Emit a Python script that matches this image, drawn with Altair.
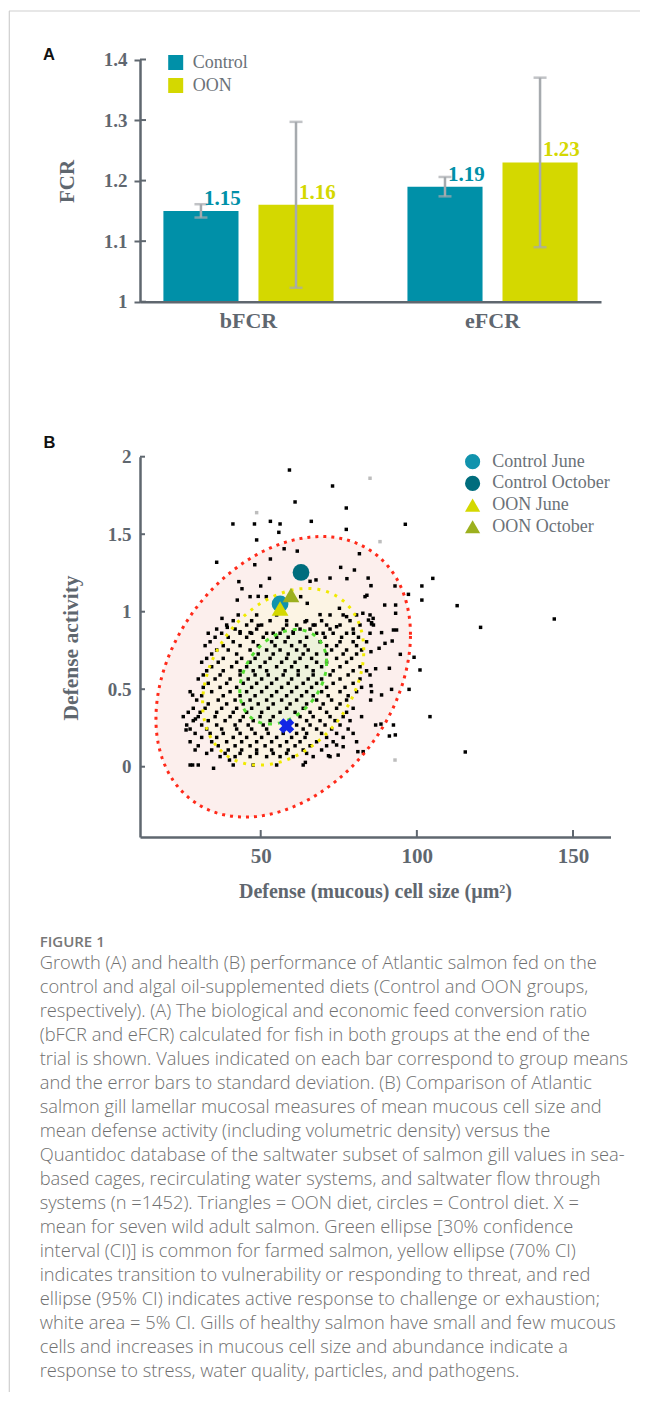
import altair as alt
import numpy as np
import pandas as pd

W, H = 632, 1384
SERIF = "Liberation Serif"
SANS = "Liberation Sans"
AX = "#5f676f"
LEG = "#6b7278"

# ---------------- Panel A data ----------------
metric = ["bFCR", "bFCR", "eFCR", "eFCR"]
group = ["Control", "OON", "Control", "OON"]
fcr_mean = [1.15, 1.16, 1.19, 1.23]
fcr_sd = [0.011, 0.137, 0.016, 0.140]
a_ticks = [1.0, 1.1, 1.2, 1.3, 1.4]

# ---------------- Panel B data ----------------
series = ["Control June", "Control October", "OON June", "OON October"]
series_x = [56.2, 62.9, 56.2, 59.7]
series_y = [1.05, 1.253, 1.02, 1.108]
wild_x = [58.3]
wild_y = [0.263]

# database points: upper area (x, y)
db_upper = [(59.2,1.914),(73.0,1.811),(61.0,1.708),(77.4,1.669),(66.2,1.583),(53.1,1.583),
            (56.2,1.566),(48.0,1.566),(41.1,1.566),(55.8,1.512),(77.4,1.531),(48.7,1.463),
            (35.9,1.319),(57.5,1.406),(61.7,1.391),(53.1,1.340),(48.1,1.303),(81.6,1.374),
            (75.6,1.286),(80.0,1.269),(72.2,1.217),(77.6,1.213),(84.4,1.217),(85.3,1.168),
            (84.0,1.106),(67.7,1.205),(65.8,1.196),(52.8,1.215),(50.0,1.166),(43.0,1.194),
            (44.0,1.148),(46.6,1.097),(49.2,1.099),(51.8,1.097),(42.5,1.075),(62.8,1.097),
            (64.9,1.054),(69.0,0.981),(75.2,1.022),(77.5,0.968),(82.7,0.990),(85.5,0.929),
            (37.6,0.957),(39.3,0.899),(43.4,0.871),(46.6,0.865),(49.2,0.912),(51.9,0.861),
            (58.3,0.914),(60.4,0.871),(64.2,0.935),(67.4,0.914),(70.0,0.861),(74.3,0.903),
            (79.7,0.861)]
# database points: right side and outer ring (x, y)
db_outer = [(96.3,1.564),(105.1,1.215),(101.6,1.166),(101.6,1.075),(112.9,1.039),(120.4,0.899),
            (144.0,0.953),(99.1,0.706),(101.0,0.624),(97.5,0.499),(104.2,0.323),(115.5,0.095),
            (91.2,0.198),(97.3,1.112),(93.0,1.166),(93.2,1.043),(93.2,0.990),(89.7,1.043),
            (83.4,1.097),(84.5,0.946),(85.5,0.921),(86.0,0.957),(88.7,0.865),(92.5,0.882),
            (93.5,0.882),(92.1,0.811),(89.8,0.796),(87.9,0.764),(85.3,0.742),(86.8,0.632),
            (91.2,0.635),(94.7,0.725),(85.3,0.523),(88.7,0.463),(91.9,0.499),(85.2,0.430),
            (86.8,0.269),(93.1,0.205),(92.5,0.269),(88.5,0.275),(74.3,0.140),(76.4,0.129),
            (82.8,0.097),(81.1,0.097),(74.8,0.075),(71.7,0.071),(64.3,0.028),(40.0,0.043),
            (34.9,-0.010),(28.2,0.011),(26.1,0.237),(28.2,0.462),(29.1,0.308)]
# database points: faint grey ones (x, y)
db_grey = [(85.0,1.861),(48.7,1.639),(88.2,1.452),(93.0,0.043),(85.4,1.168)]
# database points: dense core, one row per defense-activity level
db_core_rows = [
    (0.979, [42.8, 48.7, 55.1, 72.2, 76.4, 80.7, 85.0]),
    (0.942, [41.2, 47.1, 53.0, 58.3, 64.7, 69.5, 78.6]),
    (0.914, [39.1, 45.5, 50.3, 61.5, 66.8, 71.1, 75.4, 81.8, 86.1]),
    (0.888, [35.9, 41.8, 48.7, 57.2, 62.6, 65.8, 72.2, 79.6]),
    (0.861, [33.2, 37.5, 43.4, 47.1, 54.0, 56.2, 60.4, 67.9, 73.2, 77.5, 85.0]),
    (0.835, [35.4, 39.6, 45.5, 50.8, 55.1, 58.8, 64.7, 70.6, 75.9, 81.3]),
    (0.806, [33.8, 41.2, 47.6, 53.5, 57.8, 62.6, 69.0, 75.4, 79.6, 83.9]),
    (0.781, [32.2, 38.0, 43.4, 49.2, 54.6, 59.9, 64.2, 71.1, 74.3, 80.7]),
    (0.753, [35.9, 39.6, 46.6, 51.9, 56.2, 61.5, 65.2, 72.7, 77.5, 82.3]),
    (0.727, [34.3, 42.3, 49.2, 54.0, 58.8, 63.6, 67.9, 71.1, 76.4, 80.7]),
    (0.699, [32.7, 38.0, 43.9, 48.2, 53.0, 58.3, 62.6, 66.3, 74.3, 79.1]),
    (0.674, [31.1, 36.4, 42.3, 46.6, 51.4, 56.7, 61.0, 67.9, 71.1, 77.5]),
    (0.645, [34.3, 40.7, 45.5, 49.8, 55.1, 59.9, 64.7, 69.5, 75.4, 81.8]),
    (0.619, [32.7, 38.0, 43.4, 47.6, 51.9, 57.8, 62.0, 66.8, 73.2, 79.6, 83.9]),
    (0.592, [31.6, 37.0, 43.4, 48.2, 52.4, 57.2, 62.0, 66.8, 72.2, 78.0, 85.0]),
    (0.566, [30.0, 35.4, 40.2, 46.0, 50.3, 55.1, 59.9, 65.2, 69.5, 75.4, 81.8]),
    (0.538, [33.2, 39.1, 44.4, 48.7, 53.5, 58.8, 63.6, 67.9, 73.2, 79.6]),
    (0.512, [31.6, 37.0, 42.3, 47.1, 51.9, 56.7, 61.5, 66.3, 71.1, 77.0, 82.3]),
    (0.484, [27.4, 34.3, 40.2, 45.5, 50.3, 55.1, 59.9, 64.7, 69.5, 75.4, 80.7, 85.5]),
    (0.458, [31.1, 38.0, 43.4, 48.2, 53.5, 58.3, 63.1, 66.8, 71.6, 78.0]),
    (0.430, [29.5, 36.4, 41.8, 46.6, 51.9, 56.7, 61.5, 67.9, 72.7, 77.5]),
    (0.405, [33.2, 39.1, 44.4, 49.2, 54.0, 59.4, 64.7, 70.0, 75.4]),
    (0.377, [28.4, 32.2, 37.5, 42.3, 47.1, 52.4, 58.3, 63.6, 69.0, 74.3, 79.6]),
    (0.351, [26.8, 30.6, 35.9, 41.2, 45.5, 50.3, 56.2, 61.0, 65.8, 71.1, 77.5]),
    (0.323, [25.2, 30.0, 35.4, 40.2, 44.4, 49.8, 54.0, 62.6, 66.8, 72.2, 76.4, 82.3]),
    (0.297, [28.4, 33.2, 38.6, 43.4, 47.6, 53.0, 64.7, 69.0, 73.8, 78.6]),
    (0.269, [26.3, 31.1, 35.9, 41.8, 46.0, 50.8, 61.5, 65.8, 70.6, 75.4]),
    (0.243, [27.4, 32.7, 37.5, 42.3, 47.1, 51.9, 63.6, 67.9, 72.7, 78.0]),
    (0.215, [29.0, 33.8, 38.0, 43.4, 48.2, 52.4, 57.2, 61.5, 64.7, 69.5, 74.3, 79.6]),
    (0.189, [31.1, 35.9, 41.2, 45.5, 50.3, 55.1, 59.9, 64.2, 71.1, 76.4]),
    (0.161, [27.4, 34.3, 39.1, 43.9, 48.7, 53.5, 58.3, 62.6, 67.9, 73.2, 80.7]),
    (0.135, [30.0, 36.4, 41.8, 46.6, 51.4, 56.2, 61.0, 65.8, 71.1]),
    (0.108, [29.0, 34.3, 39.6, 43.9, 48.7, 53.5, 58.8, 63.6, 69.5]),
    (0.086, [32.7, 38.6, 43.4, 48.7, 54.0, 58.3, 64.7]),
    (0.065, [37.0, 41.8, 46.6, 51.9, 56.2, 60.4, 66.8, 72.2]),
    (0.011, [27.4, 30.0, 41.2, 47.6, 55.1, 63.6]),
]

# confidence ellipses (95 %, 70 %, 30 %): common centre and correlation, half extents
ell_center = [57.2, 0.58]
ell_rho = 0.30
ell_rx = [40.75, 25.8, 13.9]
ell_ry = [0.905, 0.57, 0.305]
bx_ticks = [50, 100, 150]
by_ticks = [0, 0.5, 1, 1.5, 2]

caption_title = "FIGURE 1"
caption_lines = [
    "Growth (A) and health (B) performance of Atlantic salmon fed on the",
    "control and algal oil-supplemented diets (Control and OON groups,",
    "respectively). (A) The biological and economic feed conversion ratio",
    "(bFCR and eFCR) calculated for fish in both groups at the end of the",
    "trial is shown. Values indicated on each bar correspond to group means",
    "and the error bars to standard deviation. (B) Comparison of Atlantic",
    "salmon gill lamellar mucosal measures of mean mucous cell size and",
    "mean defense activity (including volumetric density) versus the",
    "Quantidoc database of the saltwater subset of salmon gill values in sea-",
    "based cages, recirculating water systems, and saltwater flow through",
    "systems (n =1452). Triangles = OON diet, circles = Control diet. X =",
    "mean for seven wild adult salmon. Green ellipse [30% confidence",
    "interval (CI)] is common for farmed salmon, yellow ellipse (70% CI)",
    "indicates transition to vulnerability or responding to threat, and red",
    "ellipse (95% CI) indicates active response to challenge or exhaustion;",
    "white area = 5% CI. Gills of healthy salmon have small and few mucous",
    "cells and increases in mucous cell size and abundance indicate a",
    "response to stress, water quality, particles, and pathogens.",
]

# ================= Panel A =================
dfA = pd.DataFrame({"metric": metric, "group": group, "mean": fcr_mean, "sd": fcr_sd})
dfA["lo"] = dfA["mean"] - dfA["sd"]
dfA["hi"] = dfA["mean"] + dfA["sd"]
dfA["base"] = 1.0

axA_x = alt.Axis(orient="bottom", offset=-(H - 293.7), title=None, labelAngle=0,
                 ticks=False, tickSize=0, labelPadding=9, labelFont=SERIF,
                 labelFontWeight="bold", labelFontSize=22, labelColor=AX,
                 domainColor=AX, domainWidth=2.5, grid=False, zindex=1)
axA_y = alt.Axis(orient="left", offset=-132, values=a_ticks, format="~g",
                 tickSize=6, tickWidth=2, tickColor=AX, labelPadding=7,
                 labelFont=SERIF, labelFontWeight="bold", labelFontSize=19,
                 labelColor=AX, domainColor=AX, domainWidth=2.5, grid=False,
                 title="FCR", titleX=-72.5, titleY=173, titleAngle=270,
                 titleAlign="center", titleBaseline="middle", titleFont=SERIF,
                 titleFontWeight="bold", titleFontSize=21, titleColor=AX, zindex=1)
sxA = alt.Scale(domain=["bFCR", "eFCR"], range=[132, 593], paddingInner=0.221, paddingOuter=0.055)
syA = alt.Scale(domain=[1, 1.4], range=[293.7, 51.5], nice=False, zero=False)
xoA = alt.XOffset("group:N", scale=alt.Scale(domain=["Control", "OON"], paddingInner=0.21, paddingOuter=0.105))
legA = alt.Legend(orient="none", legendX=158.7, legendY=45.5, title=None, symbolType="square",
                  symbolSize=225, symbolStrokeWidth=0, labelFont=SERIF, labelFontSize=18,
                  labelColor=LEG, labelOffset=8, rowPadding=5, padding=0)
colA = alt.Color("group:N", scale=alt.Scale(domain=["Control", "OON"], range=["#0090a8", "#d4d800"]), legend=legA)


def XA():
    return alt.X("metric:N", scale=sxA, axis=axA_x)


def YA(f):
    return alt.Y(f, type="quantitative", scale=syA, axis=axA_y)


baseA = alt.Chart(dfA)
bars = baseA.mark_bar().encode(x=XA(), xOffset=xoA, y=YA("mean"), y2="base:Q", color=colA)
err = baseA.mark_rule(color="#a6aaae", strokeWidth=2.5).encode(x=XA(), xOffset=xoA, y=YA("lo"), y2="hi:Q")
cap_lo = baseA.mark_tick(color="#a6aaae", thickness=2.5, size=13).encode(x=XA(), xOffset=xoA, y=YA("lo"))
cap_hi = baseA.mark_tick(color="#a6aaae", thickness=2.5, size=13).encode(x=XA(), xOffset=xoA, y=YA("hi"))
vals = baseA.mark_text(align="left", baseline="alphabetic", dx=3, dy=-6, font=SERIF,
                       fontWeight="bold", fontSize=21).encode(
    x=XA(), xOffset=xoA, y=YA("mean"), text=alt.Text("mean:Q", format=".2f"), color=colA)
inA = alt.Chart(pd.DataFrame({"v": a_ticks})).mark_rule(color=AX, strokeWidth=2).encode(
    y=YA("v"), x=alt.value(132), x2=alt.value(138))
panelA = alt.layer(bars, err, cap_lo, cap_hi, vals, inA)

# ================= Panel B =================
sxB = alt.Scale(domain=[11.35, 162.0], range=[132, 602.5], nice=False, zero=False)
syB = alt.Scale(domain=[-0.4535, 2.0], range=[829, 448.7], nice=False, zero=False)
axB_x = alt.Axis(orient="bottom", offset=-(H - 829), values=bx_ticks, ticks=False, tickSize=0,
                 labelPadding=8, labelFont=SERIF, labelFontWeight="bold", labelFontSize=21,
                 labelColor=AX, domainColor=AX, domainWidth=2.5, grid=False,
                 title="Defense (mucous) cell size (µm²)", titleX=367, titleY=54.5,
                 titleAlign="center", titleBaseline="middle", titleFont=SERIF,
                 titleFontWeight="bold", titleFontSize=20, titleColor=AX, zindex=1)
axB_y = alt.Axis(orient="left", offset=-132, values=by_ticks, format="~g", ticks=False,
                 tickSize=0, labelPadding=9, labelFont=SERIF, labelFontWeight="bold",
                 labelFontSize=19, labelColor=AX, domainColor=AX, domainWidth=2.5, grid=False,
                 title="Defense activity", titleX=-69, titleY=639.5, titleAngle=270,
                 titleAlign="center", titleBaseline="middle", titleFont=SERIF,
                 titleFontWeight="bold", titleFontSize=21.5, titleColor=AX, zindex=1)


def XB(f):
    return alt.X(f, type="quantitative", scale=sxB, axis=axB_x)


def YB(f):
    return alt.Y(f, type="quantitative", scale=syB, axis=axB_y)


def ellipse_fill(rx, ry):
    t = np.linspace(np.pi, 0, 181)
    c = ell_rho * ry
    d = ry * np.sqrt(1 - ell_rho ** 2)
    return pd.DataFrame({
        "x": ell_center[0] + rx * np.cos(t),
        "up": ell_center[1] + c * np.cos(t) + d * np.sin(t),
        "lo": ell_center[1] + c * np.cos(t) - d * np.sin(t),
    })


def ellipse_outline(rx, ry):
    t = np.linspace(0, 2 * np.pi, 241)
    c = ell_rho * ry
    d = ry * np.sqrt(1 - ell_rho ** 2)
    return pd.DataFrame({
        "i": np.arange(len(t)),
        "x": ell_center[0] + rx * np.cos(t),
        "y": ell_center[1] + c * np.cos(t) + d * np.sin(t),
    })


fills = ["#fcefed", "#fcf4e4", "#eef3dc"]
strokes = ["#ff2a1a", "#f0ea00", "#55dd33"]
dashes = [[3, 5], [3, 6], [4, 6]]
layersB = []
for rx, ry, fc in zip(ell_rx, ell_ry, fills):
    layersB.append(alt.Chart(ellipse_fill(rx, ry)).mark_area(color=fc, opacity=1).encode(
        x=XB("x"), y=YB("up"), y2="lo:Q"))

db_pts = list(db_upper) + list(db_outer)
for yv, xs in db_core_rows:
    db_pts += [(xv, yv) for xv in xs]
dfDB = pd.DataFrame(db_pts, columns=["x", "y"])
dfGrey = pd.DataFrame(db_grey, columns=["x", "y"])
layersB.append(alt.Chart(dfGrey).mark_square(size=12, color="#bdbdbd", opacity=1).encode(x=XB("x"), y=YB("y")))
layersB.append(alt.Chart(dfDB).mark_square(size=12, color="#000000", opacity=1).encode(x=XB("x"), y=YB("y")))

for rx, ry, sc, dsh in zip(ell_rx, ell_ry, strokes, dashes):
    layersB.append(alt.Chart(ellipse_outline(rx, ry)).mark_line(color=sc, strokeWidth=3, strokeDash=dsh).encode(
        x=XB("x"), y=YB("y"), order="i:Q"))

dfXT = pd.DataFrame({"v": bx_ticks, "a": -0.4535, "b": -0.4535 + 0.045})
dfYT = pd.DataFrame({"v": by_ticks, "a": 11.35, "b": 11.35 + 1.6})
layersB.append(alt.Chart(dfXT).mark_rule(color=AX, strokeWidth=2).encode(x=XB("v"), y=YB("a"), y2="b:Q"))
layersB.append(alt.Chart(dfYT).mark_rule(color=AX, strokeWidth=2).encode(y=YB("v"), x=XB("a"), x2="b:Q"))

legB = alt.Legend(orient="none", legendX=455.6, legendY=444.7, title=None, symbolSize=230,
                  symbolStrokeWidth=0, labelFont=SERIF, labelFontSize=18, labelColor=LEG,
                  labelOffset=10.6, rowPadding=3.7, padding=0)
dfS = pd.DataFrame({"series": series, "x": series_x, "y": series_y})
layersB.append(alt.Chart(dfS).mark_point(filled=True, opacity=1, size=280).encode(
    x=XB("x"), y=YB("y"),
    color=alt.Color("series:N", scale=alt.Scale(domain=series, range=["#1193ad", "#006d7d", "#d4d800", "#9cb01e"]), legend=legB),
    shape=alt.Shape("series:N", scale=alt.Scale(domain=series, range=["circle", "circle", "triangle-up", "triangle-up"]), legend=legB),
))
layersB.append(alt.Chart(pd.DataFrame({"x": wild_x, "y": wild_y})).mark_point(
    shape="cross", filled=True, opacity=1, angle=45, size=240, color="#1226e6").encode(x=XB("x"), y=YB("y")))
panelB = alt.layer(*layersB)

# ================= Caption and decorations =================
one = pd.DataFrame({"k": [0]})
dfCap = pd.DataFrame({"i": list(range(len(caption_lines))), "line": caption_lines})
caption = alt.Chart(dfCap).mark_text(align="left", baseline="middle", font="Open Sans", fontSize=18.3,
                                     fontWeight=300, color="#6f6f6f").encode(
    y=alt.Y("i:Q", scale=alt.Scale(domain=[0, len(caption_lines) - 1], range=[956.3, 1363.7], nice=False, zero=False), axis=None),
    x=alt.value(31.7), text="line:N")
fig_title = alt.Chart(one).mark_text(align="left", baseline="middle", font="Open Sans", fontSize=15,
                                     fontWeight=600, color="#777777", text=caption_title).encode(
    x=alt.value(31.7), y=alt.value(933.7))
lab_a = alt.Chart(one).mark_text(align="left", baseline="middle", font=SANS, fontSize=16.5,
                                 fontWeight="bold", color="#111111", text="A").encode(x=alt.value(35), y=alt.value(46.7))
lab_b = alt.Chart(one).mark_text(align="left", baseline="middle", font=SANS, fontSize=16.5,
                                 fontWeight="bold", color="#111111", text="B").encode(x=alt.value(35.5), y=alt.value(434.5))
frame_top = alt.Chart(one).mark_rule(color="#cfcfcf", strokeWidth=1.2).encode(
    x=alt.value(1), x2=alt.value(W), y=alt.value(3))
frame_left = alt.Chart(one).mark_rule(color="#cfcfcf", strokeWidth=1.2).encode(
    x=alt.value(1.3), y=alt.value(3), y2=alt.value(H))

chart = alt.layer(frame_top, frame_left, panelA, panelB, caption, fig_title, lab_a, lab_b).resolve_scale(
    x="independent", y="independent", color="independent", shape="independent"
).properties(
    width=W, height=H, padding=0, background="white",
    autosize=alt.AutoSizeParams(type="none"),
).configure_view(stroke=None)

chart.save("out.html", embed_options={"renderer": "svg", "actions": False})
